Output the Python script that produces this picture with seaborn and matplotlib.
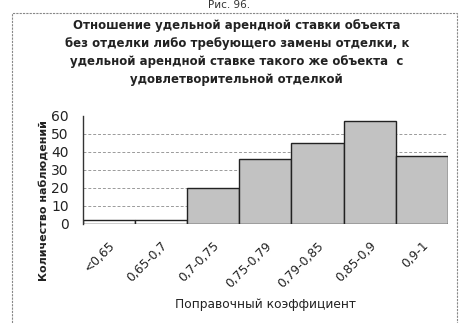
import matplotlib
matplotlib.use("Agg")
import matplotlib.pyplot as plt
import seaborn as sns
import pandas as pd
from matplotlib.patches import Rectangle

categories = ["<0,65", "0,65-0,7", "0,7-0,75", "0,75-0,79", "0,79-0,85", "0,85-0,9", "0,9-1"]
counts = [2, 2, 20, 36, 45, 57, 38]
yticks = [0, 10, 20, 30, 40, 50, 60]

title = ("Отношение удельной арендной ставки объекта\n"
         "без отделки либо требующего замены отделки, к\n"
         "удельной арендной ставке такого же объекта  с\n"
         "удовлетворительной отделкой")

sns.set_theme(style="white")
plt.rcParams['font.family'] = ['DejaVu Sans']

df = pd.DataFrame({"cat": categories, "n": counts})

fig = plt.figure(figsize=(4.59, 3.23), dpi=100)
ax = fig.add_axes([0.18, 0.307, 0.796, 0.334])

sns.barplot(data=df, x="cat", y="n", ax=ax, color="#c2c2c2", width=1.0,
            edgecolor="#222222", linewidth=1.0, saturation=1)
for i, p in enumerate(ax.patches):
    if counts[i] < 5:
        p.set_facecolor("white")

ax.set_ylim(0, 60)
ax.set_yticks(yticks)
ax.set_xlim(-0.5, len(categories) - 0.5)
for y in yticks[1:-1]:
    ax.axhline(y, color="#9a9a9a", linestyle=(0, (3, 2)), linewidth=0.7, zorder=0)
ax.set_axisbelow(True)

for s in ["top", "right", "bottom"]:
    ax.spines[s].set_visible(False)
ax.spines["left"].set_color("#333333")
ax.spines["left"].set_linewidth(1.0)
ax.axhline(0, color="#666666", linewidth=0.8)

ax.tick_params(axis="y", length=0, labelsize=10, pad=10, colors="#222222")
ax.tick_params(axis="x", length=0, labelsize=8.8, pad=11, colors="#222222")
plt.setp(ax.get_xticklabels(), rotation=45, ha="right", rotation_mode="anchor")
ax.set_xlabel("Поправочный коэффициент", fontsize=8.8, color="#222222", labelpad=6)
ax.set_ylabel("Количество наблюдений", fontsize=8, fontweight="bold", color="#222222")
ax.yaxis.set_label_coords(-0.09, 0.22)

fig.text(0.516, 0.836, title, ha="center", va="center", fontsize=8.5,
         fontweight="bold", color="#222222", linespacing=1.5)
fig.text(0.5, 0.999, "Рис. 96.", ha="center", va="top", fontsize=7.5, color="#333333")

fig.patches.append(Rectangle((0.026, -0.01), 0.97, 0.97, transform=fig.transFigure,
                             fill=False, edgecolor="#888888", linewidth=0.8,
                             linestyle=(0, (2, 1))))

fig.savefig("out.png", dpi=100)
